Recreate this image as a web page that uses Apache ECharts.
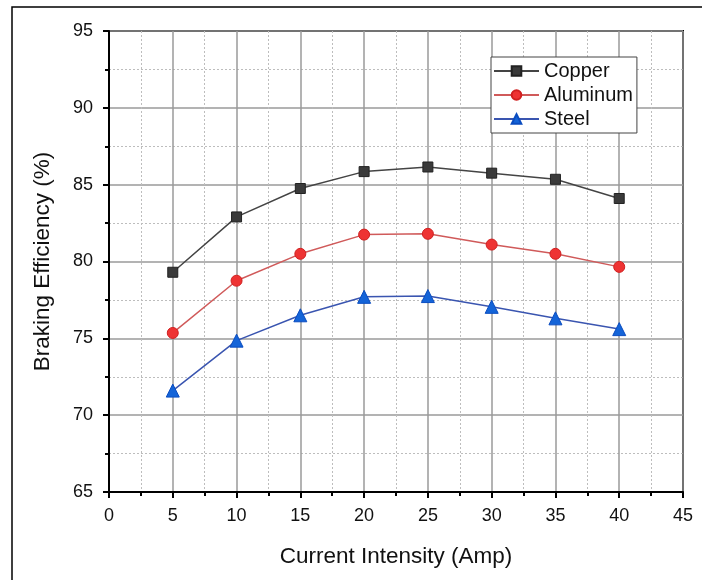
<!DOCTYPE html>
<html>
<head>
<meta charset="utf-8">
<script src="https://cdn.jsdelivr.net/npm/echarts@6/dist/echarts.min.js"></script>
<style>
  html, body { margin: 0; padding: 0; background: #fff; }
  #chart { width: 702px; height: 580px; }
</style>
</head>
<body>
<div id="chart"></div>
<script>
// Braking efficiency vs. coil current for three disc materials
const currents = [5, 10, 15, 20, 25, 30, 35, 40];
const copper   = [79.3, 82.9, 84.75, 85.85, 86.15, 85.75, 85.35, 84.1];
const aluminum = [75.35, 78.75, 80.5, 81.75, 81.8, 81.1, 80.5, 79.65];
const steel    = [71.6, 74.85, 76.5, 77.7, 77.75, 77.05, 76.3, 75.6];

const pairs = ys => currents.map((x, i) => [x, ys[i]]);
const FONT = '"Liberation Sans", Arial, sans-serif';

const chart = echarts.init(document.getElementById('chart'), null, { renderer: 'canvas' });

const axisCommon = {
  axisLine: { show: true, lineStyle: { color: '#000', width: 2 } },
  axisTick: { show: true, inside: false, length: 6, lineStyle: { color: '#000', width: 2 } },
  minorTick: { show: true, splitNumber: 2, length: 4, lineStyle: { color: '#000', width: 2 } },
  splitLine: { show: true, lineStyle: { color: '#9a9a9a', width: 1.5 } },
  minorSplitLine: { show: true, lineStyle: { color: '#bdbdbd', width: 1, type: [2, 2] } },
  axisLabel: { color: '#111', fontSize: 18, fontFamily: FONT },
  nameTextStyle: { color: '#111', fontSize: 22.5, fontFamily: FONT }
};

chart.setOption({
  animation: false,
  backgroundColor: '#fff',
  graphic: [{
    type: 'rect',
    shape: { x: 12, y: 7, width: 800, height: 700 },
    style: { fill: 'none', stroke: '#000', lineWidth: 1.5 },
    silent: true
  }],
  grid: {
    left: 109, top: 31, right: 19, bottom: 88,
    show: true, borderColor: '#000', borderWidth: 2, backgroundColor: '#fff'
  },
  xAxis: Object.assign({}, axisCommon, {
    type: 'value', min: 0, max: 45, interval: 5,
    name: 'Current Intensity (Amp)', nameLocation: 'middle', nameGap: 53,
    axisLabel: Object.assign({}, axisCommon.axisLabel, { margin: 15 })
  }),
  yAxis: Object.assign({}, axisCommon, {
    type: 'value', min: 65, max: 95, interval: 5,
    name: 'Braking Efficiency (%)', nameLocation: 'middle', nameGap: 55,
    nameTextStyle: Object.assign({}, axisCommon.nameTextStyle, { fontSize: 22.5 }),
    axisLabel: Object.assign({}, axisCommon.axisLabel, { margin: 16 })
  }),
  legend: {
    orient: 'vertical', left: 491, top: 57,
    itemWidth: 45, itemHeight: 12, itemGap: 4,
    padding: [4, 4, 4, 2],
    backgroundColor: '#fff', borderColor: '#444', borderWidth: 1,
    textStyle: { color: '#111', fontSize: 20, fontFamily: FONT },
    data: ['Copper', 'Aluminum', 'Steel']
  },
  series: [
    {
      name: 'Copper', type: 'line', data: pairs(copper),
      symbol: 'rect', symbolSize: 10,
      lineStyle: { color: '#444', width: 1.5 },
      itemStyle: { color: '#3a3a3a', borderColor: '#222', borderWidth: 1 },
      z: 5
    },
    {
      name: 'Aluminum', type: 'line', data: pairs(aluminum),
      symbol: 'circle', symbolSize: 11,
      lineStyle: { color: '#d05a5a', width: 1.5 },
      itemStyle: { color: '#ee3333', borderColor: '#d02020', borderWidth: 1 },
      z: 5
    },
    {
      name: 'Steel', type: 'line', data: pairs(steel),
      symbol: 'triangle', symbolSize: 13,
      lineStyle: { color: '#3a55b0', width: 1.5 },
      itemStyle: { color: '#1464d8', borderColor: '#0a4cc0', borderWidth: 1 },
      z: 5
    }
  ]
});
</script>
</body>
</html>
